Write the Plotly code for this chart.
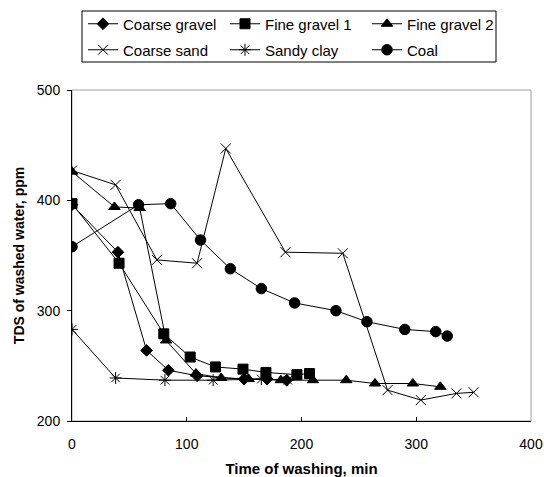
import plotly.graph_objects as go

# ---- data ----
coarse_gravel_x = [0, 40, 65, 84, 109, 150, 170, 187]
coarse_gravel_y = [396, 353, 264, 246, 241, 238, 238, 237]

fine_gravel1_x = [0, 41, 80, 103, 125, 149, 169, 196, 207]
fine_gravel1_y = [397, 343, 279, 258, 249, 247, 244, 242, 243]

fine_gravel2_x = [0, 37, 59, 82, 108, 130, 154, 182, 210, 239, 264, 297, 321]
fine_gravel2_y = [426, 394, 393, 273, 243, 239, 238, 237, 237, 237, 234, 234, 231]

coarse_sand_x = [0, 38, 74, 109, 134, 186, 236, 275, 304, 335, 350]
coarse_sand_y = [427, 414, 346, 343, 447, 353, 352, 228, 219, 225, 226]

sandy_clay_x = [0, 38, 81, 123, 165, 188]
sandy_clay_y = [283, 239, 237, 237, 238, 237]

coal_x = [0, 58, 86, 112, 138, 165, 194, 230, 257, 290, 317, 327]
coal_y = [358, 396, 397, 364, 338, 320, 307, 300, 290, 283, 281, 277]

x_ticks = [0, 100, 200, 300, 400]
y_ticks = [200, 300, 400, 500]

FONT = "Liberation Sans, Arial, sans-serif"

series = [
    ("Coarse gravel", coarse_gravel_x, coarse_gravel_y, "diamond", 9, "legend"),
    ("Fine gravel 1", fine_gravel1_x, fine_gravel1_y, "square", 10, "legend"),
    ("Fine gravel 2", fine_gravel2_x, fine_gravel2_y, "triangle-up", 10, "legend"),
    ("Coarse sand", coarse_sand_x, coarse_sand_y, "x-thin-open", 10, "legend2"),
    ("Sandy clay", sandy_clay_x, sandy_clay_y, "asterisk-open", 10, "legend2"),
    ("Coal", coal_x, coal_y, "circle", 10.5, "legend2"),
]

fig = go.Figure()
for name, xs, ys, sym, size, lg in series:
    fig.add_trace(go.Scatter(
        x=xs, y=ys, name=name, mode="lines+markers",
        line=dict(color="black", width=1),
        marker=dict(symbol=sym, size=size, color="black",
                    line=dict(color="black", width=1)),
        legend=lg,
    ))

# plot area in pixels: left 72, right 531, top 90, bottom 421
W, H = 544, 477
L, R, T, B = 72, 531, 90, 421
pw, ph = R - L, B - T

def px_x(p):
    return (p - L) / pw

def px_y(p):
    return (B - p) / ph

legend_common = dict(
    orientation="h", xanchor="left", yanchor="middle",
    bgcolor="rgba(0,0,0,0)", borderwidth=0,
    font=dict(family=FONT, size=15, color="black"),
    entrywidth=97, entrywidthmode="pixels",
    itemwidth=30, traceorder="normal",
)

fig.update_layout(
    width=W, height=H,
    margin=dict(l=L, r=W - R, t=T, b=H - B, autoexpand=False),
    paper_bgcolor="white", plot_bgcolor="white",
    font=dict(family=FONT, size=14, color="black"),
    showlegend=True,
    legend=dict(x=px_x(83), y=px_y(24), **legend_common),
    legend2=dict(x=px_x(83), y=px_y(50), **legend_common),
    xaxis=dict(
        range=[0, 400], tickvals=x_ticks, ticks="inside", ticklen=4,
        tickcolor="black", showline=True, linecolor="black", linewidth=1,
        showgrid=False, zeroline=False, ticklabelstandoff=10,
        tickfont=dict(family=FONT, size=14, color="black"),
        title=dict(text="<b>Time of washing, min</b>", standoff=12,
                   font=dict(family=FONT, size=15, color="black")),
    ),
    yaxis=dict(
        range=[200, 500], tickvals=y_ticks, ticks="outside", ticklen=4,
        tickcolor="black", showline=True, linecolor="black", linewidth=1,
        showgrid=False, zeroline=False, ticklabelstandoff=4,
        tickfont=dict(family=FONT, size=14, color="black"),
        title=dict(text="<b>TDS of washed water, ppm</b>", standoff=8,
                   font=dict(family=FONT, size=14, color="black")),
    ),
    shapes=[
        dict(type="rect", xref="x domain", yref="y domain", x0=0, x1=1, y0=0, y1=1,
             line=dict(color="#a0a0a0", width=1), layer="below"),
        dict(type="rect", xref="paper", yref="paper",
             x0=px_x(82), x1=px_x(496), y0=px_y(62), y1=px_y(11),
             line=dict(color="black", width=1), layer="above"),
    ],
)

fig.write_html("out.html", config={"responsive": False, "displayModeBar": False},
               post_script="document.body.style.margin='0';document.body.style.overflow='hidden';")
